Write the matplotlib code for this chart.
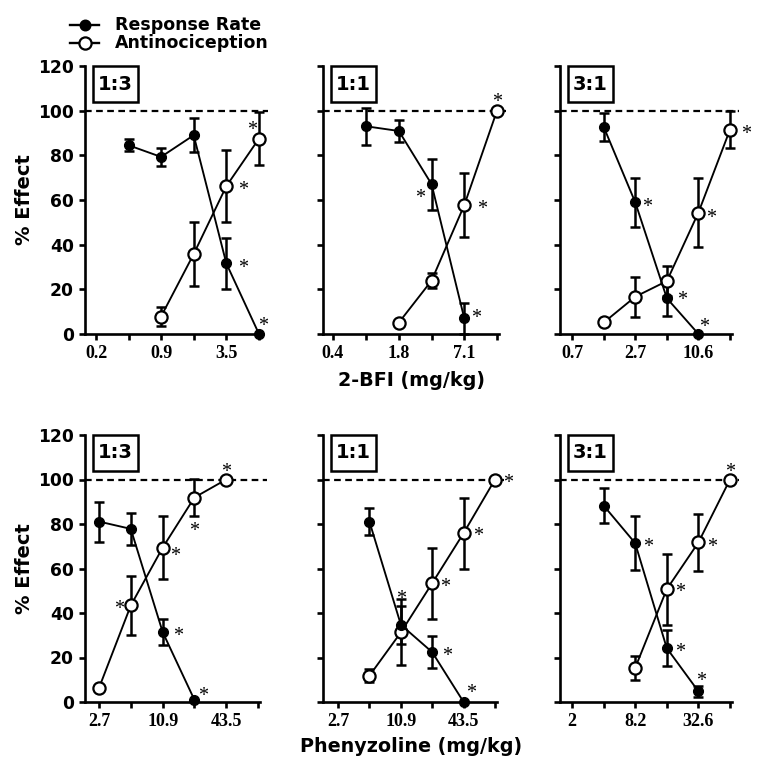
import numpy as np
import matplotlib
matplotlib.use('Agg')
import matplotlib.pyplot as plt
from matplotlib.patches import Rectangle
from matplotlib.lines import Line2D

# ---------------- data ----------------
ratios = ['1:3', '1:1', '3:1', '1:3', '1:1', '3:1']

ticks_bfi_13 = [0.22, 0.44, 0.875, 1.75, 3.5, 7.0]
ticks_bfi_11 = [0.44, 0.89, 1.775, 3.55, 7.1, 14.2]
ticks_bfi_31 = [0.66, 1.33, 2.65, 5.3, 10.6, 21.2]
ticks_phz_13 = [2.72, 5.44, 10.9, 21.75, 43.5, 87.0]
ticks_phz_11 = [2.72, 5.44, 10.9, 21.75, 43.5, 87.0]
ticks_phz_31 = [2.04, 4.08, 8.15, 16.3, 32.6, 65.2]

labels_bfi_13 = ['0.2', '', '0.9', '', '3.5', '']
labels_bfi_11 = ['0.4', '', '1.8', '', '7.1', '']
labels_bfi_31 = ['0.7', '', '2.7', '', '10.6', '']
labels_phz_13 = ['2.7', '', '10.9', '', '43.5', '']
labels_phz_11 = ['2.7', '', '10.9', '', '43.5', '']
labels_phz_31 = ['2', '', '8.2', '', '32.6', '']

# Response rate (filled)
rate_x_bfi_13 = [0.44, 0.875, 1.75, 3.5, 7.0]
rate_y_bfi_13 = [84.5, 79.3, 89.0, 31.6, 0.0]
rate_e_bfi_13 = [2.7, 4.2, 7.5, 11.6, 0.0]
rate_x_bfi_11 = [0.89, 1.775, 3.55, 7.1]
rate_y_bfi_11 = [93.0, 90.9, 67.1, 7.0]
rate_e_bfi_11 = [8.4, 5.0, 11.4, 7.0]
rate_x_bfi_31 = [1.33, 2.65, 5.3, 10.6]
rate_y_bfi_31 = [92.5, 58.9, 16.0, 0.0]
rate_e_bfi_31 = [6.3, 10.8, 7.8, 0.0]
rate_x_phz_13 = [2.72, 5.44, 10.9, 21.75]
rate_y_phz_13 = [81.1, 77.8, 31.4, 1.0]
rate_e_phz_13 = [9.0, 7.1, 6.0, 0.0]
rate_x_phz_11 = [5.44, 10.9, 21.75, 43.5]
rate_y_phz_11 = [81.1, 34.7, 22.4, 0.0]
rate_e_phz_11 = [6.2, 8.5, 7.3, 0.0]
rate_x_phz_31 = [4.08, 8.15, 16.3, 32.6]
rate_y_phz_31 = [88.3, 71.4, 24.2, 4.8]
rate_e_phz_31 = [8.0, 12.0, 8.0, 2.5]

# Antinociception (open)
anti_x_bfi_13 = [0.875, 1.75, 3.5, 7.0]
anti_y_bfi_13 = [7.8, 35.8, 66.2, 87.5]
anti_e_bfi_13 = [4.2, 14.3, 16.0, 12.0]
anti_x_bfi_11 = [1.775, 3.55, 7.1, 14.2]
anti_y_bfi_11 = [5.1, 23.9, 57.7, 100.0]
anti_e_bfi_11 = [0.0, 3.3, 14.2, 0.0]
anti_x_bfi_31 = [1.33, 2.65, 5.3, 10.6, 21.2]
anti_y_bfi_31 = [5.2, 16.7, 23.7, 54.4, 91.5]
anti_e_bfi_31 = [0.0, 9.0, 6.7, 15.4, 8.2]
anti_x_phz_13 = [2.72, 5.44, 10.9, 21.75, 43.5]
anti_y_phz_13 = [6.3, 43.4, 69.4, 91.9, 100.0]
anti_e_phz_13 = [0.0, 13.2, 14.2, 8.3, 0.0]
anti_x_phz_11 = [5.44, 10.9, 21.75, 43.5, 87.0]
anti_y_phz_11 = [11.8, 31.3, 53.4, 75.9, 100.0]
anti_e_phz_11 = [3.0, 14.8, 16.0, 15.9, 0.0]
anti_x_phz_31 = [8.15, 16.3, 32.6, 65.2]
anti_y_phz_31 = [15.3, 50.7, 71.7, 100.0]
anti_e_phz_31 = [5.5, 16.0, 12.7, 0.0]

# significance marks: (series, dose)
stars_bfi_13 = [('A', 3.5), ('R', 3.5), ('A', 7.0), ('R', 7.0)]
stars_bfi_11 = [('R', 3.55), ('R', 7.1), ('A', 7.1), ('A', 14.2)]
stars_bfi_31 = [('R', 2.65), ('R', 5.3), ('R', 10.6), ('A', 10.6), ('A', 21.2)]
stars_phz_13 = [('A', 5.44), ('A', 10.9), ('A', 21.75), ('A', 43.5), ('R', 10.9), ('R', 21.75)]
stars_phz_11 = [('R', 10.9), ('R', 21.75), ('R', 43.5), ('A', 21.75), ('A', 43.5), ('A', 87.0)]
stars_phz_31 = [('R', 8.15), ('R', 16.3), ('R', 32.6), ('A', 16.3), ('A', 32.6), ('A', 65.2)]

# ---------------- layout / style (pixels) ----------------
W, H = 764, 781
# star offsets in px (dx right, dy down)
star_off_bfi_13 = [(17, 0), (17, 0), (-7, -13), (4, -12)]
star_off_bfi_11 = [(-11, 10), (12, -5), (18, 0), (0, -13)]
star_off_bfi_31 = [(12, 0), (15, -2), (6, -11), (13, 1), (16, 0)]
star_off_phz_13 = [(-12, -1), (12, 4), (0, 29), (0, -12), (15, 0), (9, -8)]
star_off_phz_11 = [(0, -30), (15, 0), (7, -13), (13, 0), (14, -1), (13, -1)]
star_off_phz_31 = [(13, 0), (13, 0), (3, -14), (13, -1), (14, 0), (0, -12)]

# left px, right px, first tick px, last tick px, axis top px, axis bottom px
geom = [
    (85, 261, 96, 259, 66, 334),
    (323, 499, 333, 497, 66, 334),
    (560, 732, 572, 730, 66, 334),
    (85, 260, 99, 258, 435, 702),
    (323, 497, 338, 495, 435, 702),
    (560, 732, 572, 730, 435, 702),
]

panels = [
    (ticks_bfi_13, labels_bfi_13, rate_x_bfi_13, rate_y_bfi_13, rate_e_bfi_13,
     anti_x_bfi_13, anti_y_bfi_13, anti_e_bfi_13, stars_bfi_13, star_off_bfi_13),
    (ticks_bfi_11, labels_bfi_11, rate_x_bfi_11, rate_y_bfi_11, rate_e_bfi_11,
     anti_x_bfi_11, anti_y_bfi_11, anti_e_bfi_11, stars_bfi_11, star_off_bfi_11),
    (ticks_bfi_31, labels_bfi_31, rate_x_bfi_31, rate_y_bfi_31, rate_e_bfi_31,
     anti_x_bfi_31, anti_y_bfi_31, anti_e_bfi_31, stars_bfi_31, star_off_bfi_31),
    (ticks_phz_13, labels_phz_13, rate_x_phz_13, rate_y_phz_13, rate_e_phz_13,
     anti_x_phz_13, anti_y_phz_13, anti_e_phz_13, stars_phz_13, star_off_phz_13),
    (ticks_phz_11, labels_phz_11, rate_x_phz_11, rate_y_phz_11, rate_e_phz_11,
     anti_x_phz_11, anti_y_phz_11, anti_e_phz_11, stars_phz_11, star_off_phz_11),
    (ticks_phz_31, labels_phz_31, rate_x_phz_31, rate_y_phz_31, rate_e_phz_31,
     anti_x_phz_31, anti_y_phz_31, anti_e_phz_31, stars_phz_31, star_off_phz_31),
]

SANS = 'DejaVu Sans'
SERIF = 'Liberation Serif'
PT = 72.0 / 100.0  # points per pixel

fig = plt.figure(figsize=(W / 100, H / 100), dpi=100)

LW_SPINE = 1.9
LW_LINE = 1.35
for i, (ticks, tlabels, rx, ry, re, ax_, ay, ae, stars, soff) in enumerate(panels):
    l, r, t0, t5, top, bot = geom[i]
    ax = fig.add_axes([l / W, 1 - bot / H, (r - l) / W, (bot - top) / H])
    ax.set_xscale('log', base=2)
    lt0, lt5 = np.log2(ticks[0]), np.log2(ticks[-1])
    s = (t5 - t0) / (lt5 - lt0)
    ax.set_xlim(2 ** (lt0 - (t0 - l) / s), 2 ** (lt5 + (r - t5) / s))
    ax.set_ylim(0, 120)
    ax.set_yticks([0, 20, 40, 60, 80, 100, 120])
    ax.set_xticks(ticks)
    ax.set_xticklabels(tlabels)
    ax.minorticks_off()
    ax.set_xticks([], minor=True)
    for sp in ['top', 'right']:
        ax.spines[sp].set_visible(False)
    for sp in ['left', 'bottom']:
        ax.spines[sp].set_linewidth(LW_SPINE)
    ax.tick_params(axis='both', length=4.5, width=LW_SPINE, direction='out', pad=3.5)
    for lab in ax.get_xticklabels():
        lab.set_fontfamily(SERIF)
        lab.set_fontweight('bold')
        lab.set_fontsize(13)
    if i % 3 == 0:
        for lab in ax.get_yticklabels():
            lab.set_fontfamily(SANS)
            lab.set_fontweight('bold')
            lab.set_fontsize(12.3)
        ax.set_ylabel('% Effect', fontfamily=SANS, fontweight='bold', fontsize=14, labelpad=3)
    else:
        ax.set_yticklabels([])

    # dashed 100% line
    ax.axhline(100, xmin=0, xmax=1.04, color='k', lw=1.6, ls=(0, (3.0, 2.0)),
               clip_on=False, zorder=1)

    # error bars (only nonzero)
    for xs, ys, es in ((rx, ry, re), (ax_, ay, ae)):
        xs_, ys_, es_ = np.array(xs), np.array(ys), np.array(es)
        m = es_ > 0
        ax.errorbar(xs_[m], ys_[m], yerr=es_[m], fmt='none', ecolor='k',
                    elinewidth=1.8, capsize=3.4, capthick=1.8, zorder=2, clip_on=False)

    # antinociception (open)
    ax.plot(ax_, ay, '-', color='k', lw=LW_LINE, marker='o', ms=8.8, mfc='white',
            mec='k', mew=1.6, zorder=3, clip_on=False)
    # response rate (filled)
    ax.plot(rx, ry, '-', color='k', lw=LW_LINE, marker='o', ms=7.0, mfc='k',
            mec='k', zorder=4, clip_on=False)

    # stars
    for (ser, dose), (dx, dy) in zip(stars, soff):
        xs, ys = (rx, ry) if ser == 'R' else (ax_, ay)
        yv = ys[xs.index(dose)]
        ax.annotate('*', xy=(dose, yv), xytext=(dx * PT, -dy * PT - 6.6),
                    textcoords='offset points', ha='center', va='baseline',
                    fontfamily=SERIF, fontsize=14.5, annotation_clip=False, zorder=5)

    # ratio box
    bw, bh, bx = 45, 36, 8
    aw, ah = r - l, bot - top
    ax.add_patch(Rectangle((bx / aw, 1 - bh / ah), bw / aw, bh / ah, transform=ax.transAxes,
                           fill=False, edgecolor='k', lw=1.8, clip_on=False, zorder=6))
    ax.text((bx + bw / 2) / aw, 1 - (bh / 2) / ah, ratios[i], transform=ax.transAxes,
            ha='center', va='center', fontfamily=SANS, fontweight='bold', fontsize=14,
            zorder=7)

# x axis labels
fig.text(411 / W, 1 - 381 / H, '2-BFI (mg/kg)', ha='center', va='center',
         fontfamily=SANS, fontweight='bold', fontsize=13.8)
fig.text(411 / W, 1 - 746 / H, 'Phenyzoline (mg/kg)', ha='center', va='center',
         fontfamily=SANS, fontweight='bold', fontsize=13.8)

# legend (manual)
leg_rows = [('Response Rate', 'k', 7.0, 25), ('Antinociception', 'white', 8.8, 43)]
for text, fc, ms, yp in leg_rows:
    ln = Line2D([70 / W, 99 / W], [1 - yp / H, 1 - yp / H], transform=fig.transFigure,
                color='k', lw=1.7)
    fig.add_artist(ln)
    mk = Line2D([84.5 / W], [1 - yp / H], transform=fig.transFigure, marker='o',
                ms=ms, mfc=fc, mec='k', mew=1.6, ls='none')
    fig.add_artist(mk)
    fig.text(115 / W, 1 - yp / H, text, ha='left', va='center', fontfamily=SANS,
             fontweight='bold', fontsize=12.5)

fig.savefig('out.png', dpi=100)
